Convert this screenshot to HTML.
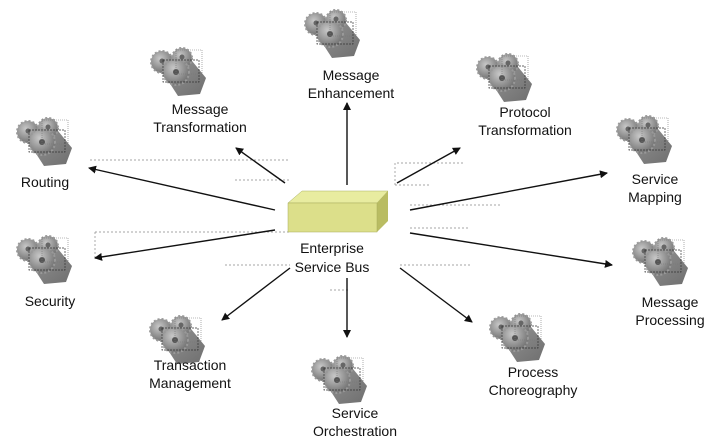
<!DOCTYPE html>
<html><head><style>
body{margin:0;background:#fff;}
svg text{font-family:"Liberation Sans",sans-serif;font-size:14px;fill:#111;text-anchor:middle;}
</style></head><body>
<svg width="720" height="443" viewBox="0 0 720 443" xmlns="http://www.w3.org/2000/svg">
<defs>
<radialGradient id="g" cx="40%" cy="35%" r="70%"><stop offset="0" stop-color="#c8c8c8"/><stop offset="1" stop-color="#6e6e6e"/></radialGradient>
<linearGradient id="s" x1="0" y1="0" x2="1" y2="1"><stop offset="0" stop-color="#888"/><stop offset="1" stop-color="#555"/></linearGradient>
<marker id="a" markerWidth="8" markerHeight="8" refX="7" refY="4" orient="auto" markerUnits="userSpaceOnUse"><path d="M0,0 L8,4 L0,8 z" fill="#111"/></marker>
<g id="gear">
<path d="M8,14 L40,8 L58,30 L52,46 L30,48 Z" fill="url(#s)" opacity="0.85"/>
<circle cx="14" cy="14" r="11" fill="url(#g)" stroke="#999" stroke-width="2" stroke-dasharray="2 2"/>
<circle cx="34" cy="10" r="10" fill="url(#g)" stroke="#999" stroke-width="2" stroke-dasharray="2 2"/>
<circle cx="28" cy="24" r="13" fill="url(#g)" stroke="#999" stroke-width="2" stroke-dasharray="2 2"/>
<circle cx="28" cy="24" r="3" fill="#555"/>
<circle cx="14" cy="13" r="2.5" fill="#666"/>
<circle cx="34" cy="9" r="2.5" fill="#666"/>
<rect x="15" y="12" width="36" height="22" fill="none" stroke="#333" stroke-width="0.7" stroke-dasharray="2 1"/>
<rect x="28" y="2" width="26" height="24" fill="none" stroke="#777" stroke-width="0.6" stroke-dasharray="1 1"/>
</g>
</defs>
<use href="#gear" x="302" y="10"/>
<use href="#gear" x="148" y="48"/>
<use href="#gear" x="474" y="54"/>
<use href="#gear" x="14" y="118"/>
<use href="#gear" x="614" y="116"/>
<use href="#gear" x="14" y="236"/>
<use href="#gear" x="630" y="238"/>
<use href="#gear" x="147" y="316"/>
<use href="#gear" x="487" y="314"/>
<use href="#gear" x="309" y="356"/>

<g fill="none" stroke="#888" stroke-width="0.7" stroke-dasharray="2 2">
<path d="M90,160 H290 M235,180 H290"/>
<path d="M395,185 V163 H465 M395,185 H430"/>
<path d="M410,205 H500"/>
<path d="M95,232 H290 M95,232 V258"/>
<path d="M410,228 H470"/>
<path d="M225,265 H290 M400,265 H470"/>
<path d="M330,290 H350"/>
</g>

<polygon points="288,203 302,191 388,191 377,203" fill="#e8eca0" stroke="#aab060" stroke-width="0.5"/>
<polygon points="377,203 388,191 388,221 377,232" fill="#b9bc62"/>
<rect x="288" y="203" width="89" height="29" fill="#dcdf8a" stroke="#a8ab5c" stroke-width="0.5"/>

<g stroke="#111" stroke-width="1.4" marker-end="url(#a)">
<line x1="347" y1="185" x2="347" y2="103"/>
<line x1="285" y1="183" x2="236" y2="148"/>
<line x1="397" y1="183" x2="460" y2="148"/>
<line x1="275" y1="210" x2="89" y2="168"/>
<line x1="410" y1="210" x2="607" y2="173"/>
<line x1="275" y1="230" x2="95" y2="258"/>
<line x1="410" y1="233" x2="612" y2="265"/>
<line x1="290" y1="268" x2="222" y2="320"/>
<line x1="400" y1="268" x2="472" y2="322"/>
<line x1="347" y1="278" x2="347" y2="337"/>
</g>

<text x="351" y="80">Message</text><text x="351" y="98">Enhancement</text>
<text x="200" y="114">Message</text><text x="200" y="132">Transformation</text>
<text x="525" y="117">Protocol</text><text x="525" y="135">Transformation</text>
<text x="45" y="187">Routing</text>
<text x="655" y="184">Service</text><text x="655" y="202">Mapping</text>
<text x="332" y="253">Enterprise</text><text x="332" y="272">Service Bus</text>
<text x="50" y="306">Security</text>
<text x="670" y="307">Message</text><text x="670" y="325">Processing</text>
<text x="190" y="370">Transaction</text><text x="190" y="388">Management</text>
<text x="533" y="377">Process</text><text x="533" y="395">Choreography</text>
<text x="355" y="418">Service</text><text x="355" y="436">Orchestration</text>
</svg>
</body></html>
